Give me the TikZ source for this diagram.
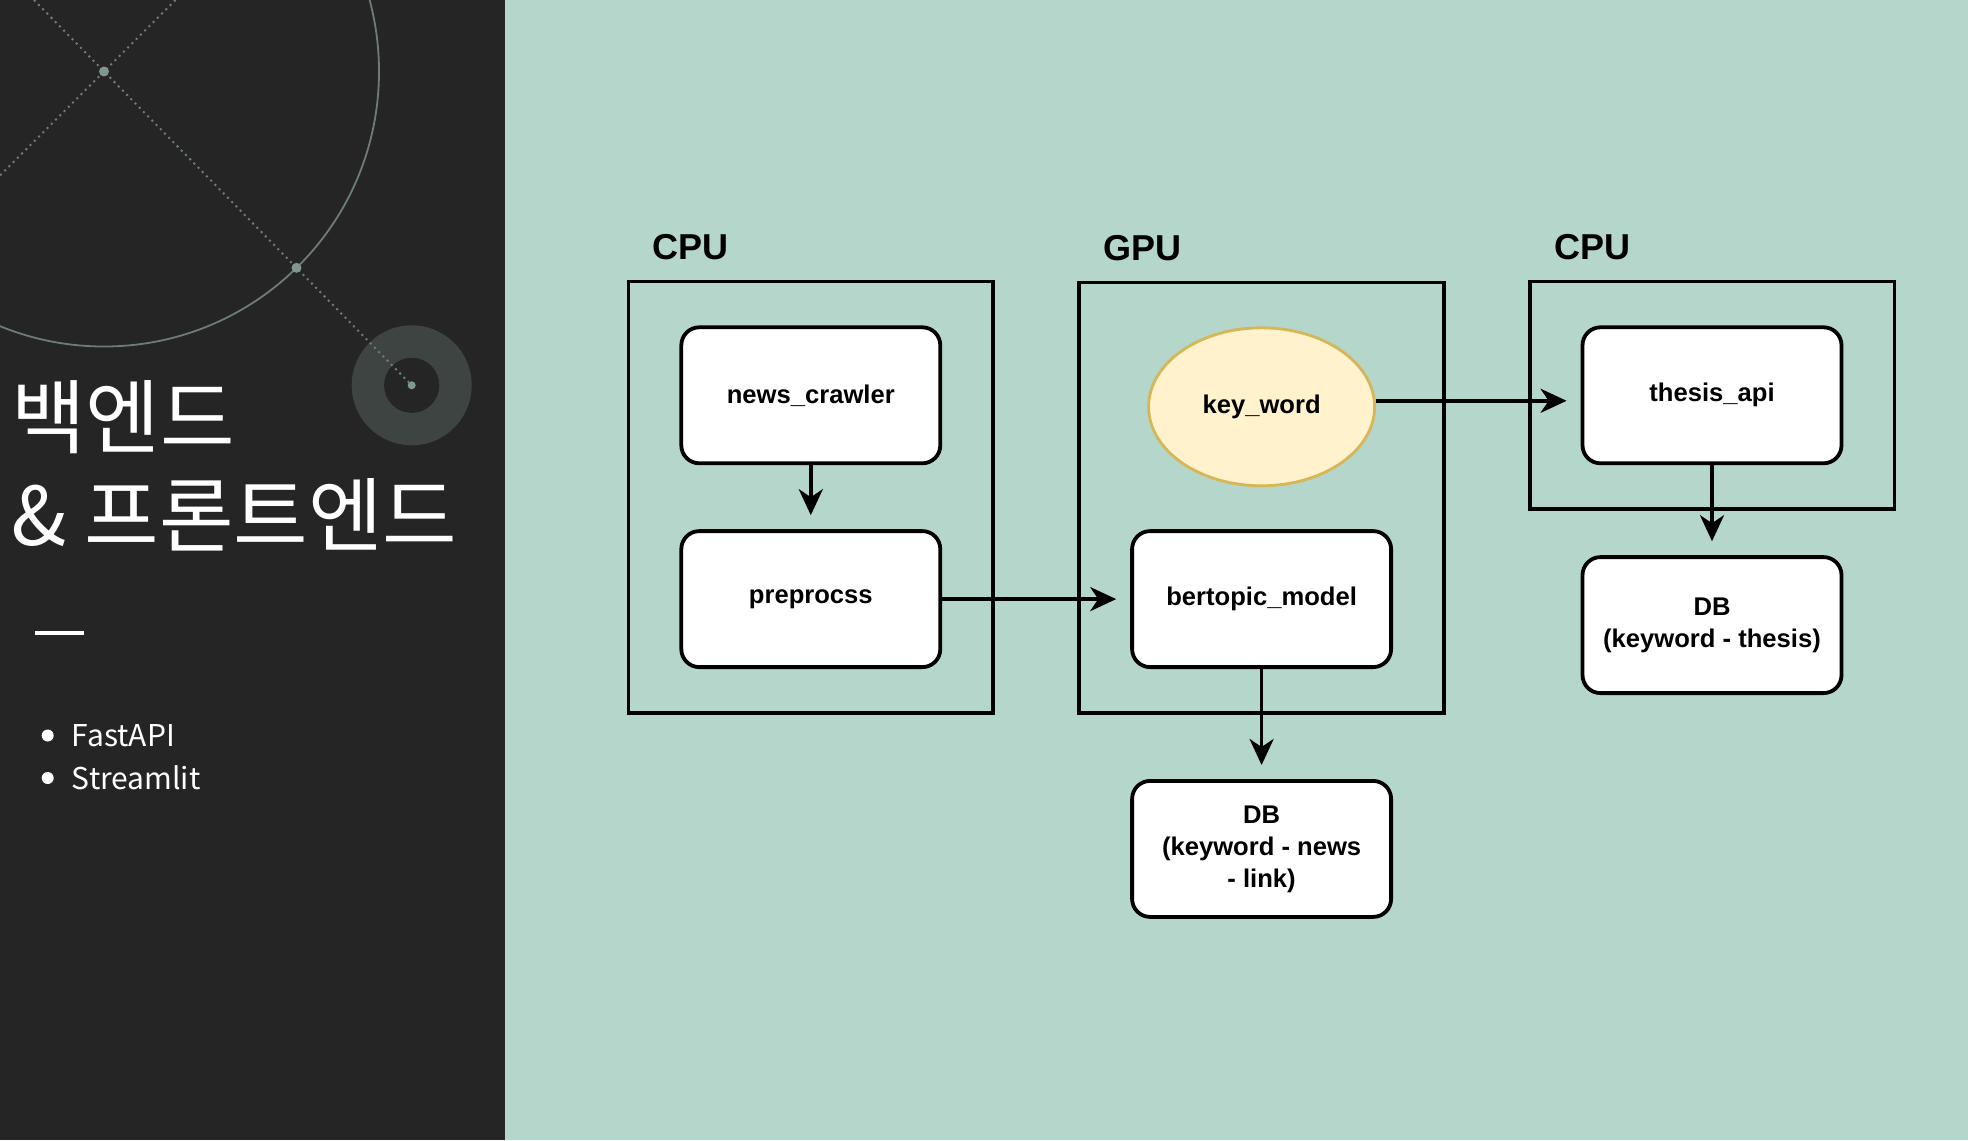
\documentclass[tikz,border=0pt]{standalone}
\usepackage{fontspec}
\setmainfont{Liberation Sans}
\newfontfamily\krfont{Noto Sans CJK KR}
\usetikzlibrary{arrows.meta,positioning,fit,shapes.geometric}

\definecolor{slidebg}{HTML}{B5D6CB}
\definecolor{panel}{HTML}{252525}
\definecolor{ringgray}{HTML}{3E4442}
\definecolor{decoline}{HTML}{6E7C77}
\definecolor{decodot}{HTML}{7F9790}
\definecolor{keyfill}{HTML}{FFF2CC}
\definecolor{keyline}{HTML}{D6B656}

\begin{document}
\begin{tikzpicture}[
  x=0.5pt, y=-0.5pt,
  node distance=32pt,
  box/.style={draw, line width=1.9pt, rounded corners=9pt, fill=white, minimum width=129.5pt, minimum height=68pt, align=center, font=\bfseries\fontsize{12.8}{16}\selectfont},
  keynode/.style={ellipse, draw=keyline, line width=1.4pt, fill=keyfill, minimum width=113pt, minimum height=79pt, font=\bfseries\fontsize{12.8}{16}\selectfont},
  devbox/.style={draw, line width=1.9pt, inner xsep=25.5pt, inner ysep=22pt},
  devlabel/.style={anchor=base west, inner sep=0pt, font=\bfseries\fontsize{18}{20}\selectfont},
  >={Stealth[length=13pt, width=12pt, inset=4pt]},
  arr/.style={->, line width=1.8pt, shorten >=7pt}
]
  \useasboundingbox (0,0) rectangle (1968,1140);
  \fill[slidebg] (0,0) rectangle (1968,1140);

  % Left panel
  \fill[panel] (0,0) rectangle (505,1140);
  \fill[ringgray] (411.7,385.3) circle[radius=60];
  \fill[panel] (411.7,385.3) circle[radius=27.6];
  \fill[decodot] (411.7,385.3) circle[radius=4];
  \begin{scope}
    \clip (0,0) rectangle (505,1140);
    \draw[decoline, line width=0.9pt] (104,71.5) circle[radius=275];
    \draw[decoline, dotted, line width=1pt] (34,0) -- (411.7,385.3);
    \draw[decoline, dotted, line width=1pt] (175.5,0) -- (0,175.5);
  \end{scope}
  \fill[decodot] (104,71.5) circle[radius=5];
  \fill[decodot] (296.5,267.8) circle[radius=5];

  \node[anchor=west, inner sep=0pt, text=white, font=\krfont\fontsize{40.5}{50}\selectfont] (title1) at (11,417) {백엔드};
  \node[anchor=west, inner sep=0pt, text=white, font=\krfont\fontsize{40.5}{50}\selectfont] (title2) at (11,515) {\& 프론트엔드};
  \draw[white, line width=2pt] (35,632.5) -- (84,632.5);
  \fill[white] (47.7,735.5) circle[radius=6];
  \fill[white] (47.7,778) circle[radius=6];
  \node[anchor=west, inner sep=0pt, text=white, font=\krfont\fontsize{15}{18}\selectfont] (fastapi) at (71.5,735.5) {FastAPI};
  \node[anchor=west, inner sep=0pt, text=white, font=\krfont\fontsize{15}{18}\selectfont] (streamlit) at (71.5,778) {Streamlit};

  % Nodes
  \node[box] (news) at (810.8,395.3) {news\_crawler};
  \node[box, below=of news] (prep) {preprocss};
  \node[box, right=94pt of prep] (bert) {bertopic\_model};
  \node[keynode, above=21pt of bert] (key) {key\_word};
  \node[box, below=55pt of bert] (dbnews) {DB\\(keyword - news\\- link)};
  \node[box] (thesis) at (1712,395.3) {thesis\_api};
  \node[box, below=45pt of thesis] (dbthesis) {DB\\(keyword - thesis)};

  % Frames
  \node[devbox, fit=(news)(prep)] (cpuA) {};
  \node[devbox, fit=(key)(bert)] (gpu) {};
  \node[devbox, fit=(thesis)] (cpuB) {};
  \node[devlabel] at ([xshift=13pt,yshift=10pt]cpuA.north west) {CPU};
  \node[devlabel] at ([xshift=13pt,yshift=10pt]gpu.north west) {GPU};
  \node[devlabel] at ([xshift=13pt,yshift=10pt]cpuB.north west) {CPU};

  % Arrows
  \draw[arr] (news) -- (prep);
  \draw[arr] (prep) -- (bert);
  \draw[arr] ([yshift=3pt]key.east) -- ([yshift=3pt]key.east -| thesis.west);
  \draw[arr] (thesis) -- (dbthesis);
  \draw[arr] (bert) -- (dbnews);
\end{tikzpicture}
\end{document}
